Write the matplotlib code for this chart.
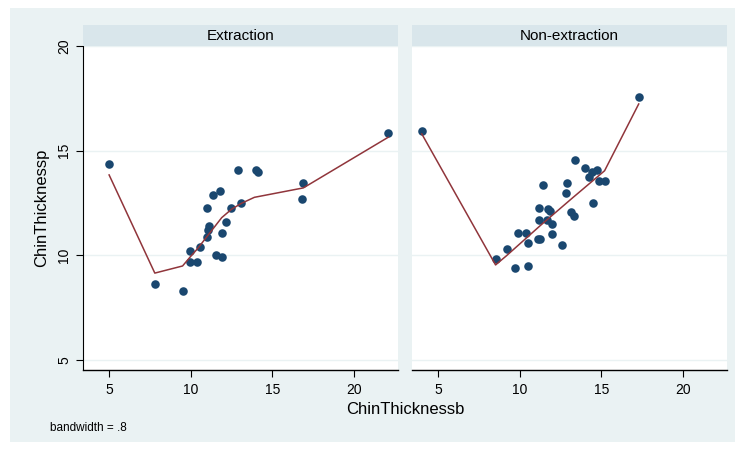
import matplotlib
matplotlib.use("Agg")
import matplotlib.pyplot as plt
from matplotlib.patches import Rectangle

plt.rcParams['font.family'] = ['Liberation Sans', 'DejaVu Sans']

# Extraction group
ext_x = [5.0, 7.8, 9.5, 9.97, 9.97, 10.36, 10.58, 10.97, 11.07, 11.1, 10.97, 11.38, 11.79,
         11.54, 11.89, 11.89, 12.18, 12.48, 13.1, 12.9, 14.0, 14.1, 16.9, 16.8, 22.1]
ext_y = [14.36, 8.61, 8.31, 10.2, 9.69, 9.69, 10.4, 10.89, 11.2, 11.4, 12.27, 12.88, 13.07,
         10.0, 9.92, 11.08, 11.59, 12.27, 12.48, 14.06, 14.08, 13.97, 13.47, 12.68, 15.86]
ext_fit_x = [5.0, 7.8, 9.5, 10.0, 10.4, 10.6, 11.0, 11.1, 11.4, 11.9, 12.2, 12.5, 13.1, 13.9, 16.9, 22.1]
ext_fit_y = [13.84, 9.15, 9.49, 9.95, 10.3, 10.5, 10.9, 11.0, 11.3, 11.8, 12.0, 12.2, 12.48, 12.77, 13.22, 15.64]

# Non-extraction group
non_x = [4.0, 17.29, 8.52, 9.19, 9.7, 10.48, 9.89, 10.38, 10.48, 11.11, 11.26, 11.2, 11.2, 11.4,
         11.75, 11.87, 11.7, 12.0, 12.0, 12.6, 12.81, 12.91, 13.12, 13.3, 13.4, 14.0, 14.22,
         14.43, 14.74, 14.49, 14.84, 15.25]
non_y = [15.95, 17.55, 9.81, 10.3, 9.41, 9.5, 11.08, 11.08, 10.6, 10.79, 10.79, 11.69, 12.27, 13.37,
         12.23, 12.12, 11.69, 11.48, 11.0, 10.5, 12.96, 13.47, 12.08, 11.88, 14.57, 14.17, 13.76,
         14.0, 14.08, 12.48, 13.56, 13.56]
non_fit_x = [4.0, 8.52, 9.19, 11.26, 13.2, 15.2, 17.29]
non_fit_y = [15.8, 9.54, 9.98, 11.42, 12.72, 14.04, 17.23]

panels = [("Extraction", ext_x, ext_y, ext_fit_x, ext_fit_y),
          ("Non-extraction", non_x, non_y, non_fit_x, non_fit_y)]

bg = '#EAF2F3'
strip = '#D9E6EB'
dot = '#1A476F'
line = '#90353B'

fig = plt.figure(figsize=(7.41, 4.5), dpi=100)
# light graph region behind everything
bgax = fig.add_axes([10 / 741, 8 / 450, 725 / 741, 434 / 450], zorder=-10)
bgax.set_facecolor(bg)
bgax.set_xticks([])
bgax.set_yticks([])
for s in bgax.spines.values():
    s.set_visible(False)

lefts = [83 / 741, 412 / 741]
for i, (name, x, y, fx, fy) in enumerate(panels):
    ax = fig.add_axes([lefts[i], 80 / 450, 315 / 741, 324 / 450])
    ax.set_facecolor('white')
    ax.set_xlim(3.4, 22.7)
    ax.set_ylim(4.52, 20.0)
    ax.set_yticks([5, 10, 15, 20])
    ax.set_xticks([5, 10, 15, 20])
    ax.grid(axis='y', color=bg, lw=1)
    ax.set_axisbelow(True)
    ax.scatter(x, y, s=38, color=dot, zorder=3, linewidths=0)
    ax.plot(fx, fy, color=line, lw=1.1, zorder=4)
    for s in ['top', 'right']:
        ax.spines[s].set_visible(False)
    ax.spines['bottom'].set_linewidth(1.0)
    ax.tick_params(axis='x', length=5, labelsize=10, pad=4)
    if i == 0:
        ax.tick_params(axis='y', length=5, labelsize=10, labelrotation=90)
        for t in ax.get_yticklabels():
            t.set_va('center')
        ax.set_ylabel('ChinThicknessp', fontsize=12, labelpad=6)
    else:
        ax.spines['left'].set_visible(False)
        ax.tick_params(axis='y', left=False, labelleft=False)
    # strip header
    sax = fig.add_axes([lefts[i], 404 / 450, 315 / 741, 21 / 450])
    sax.set_facecolor(strip)
    sax.set_xticks([])
    sax.set_yticks([])
    for s in sax.spines.values():
        s.set_visible(False)
    sax.text(0.5, 0.5, name, ha='center', va='center', fontsize=11, transform=sax.transAxes)

fig.text(405 / 741, 1 - 410 / 450, 'ChinThicknessb', ha='center', va='center', fontsize=12)
fig.text(50 / 741, 1 - 428 / 450, 'bandwidth = .8', ha='left', va='center', fontsize=8.5)

fig.savefig('out.png', dpi=100)
